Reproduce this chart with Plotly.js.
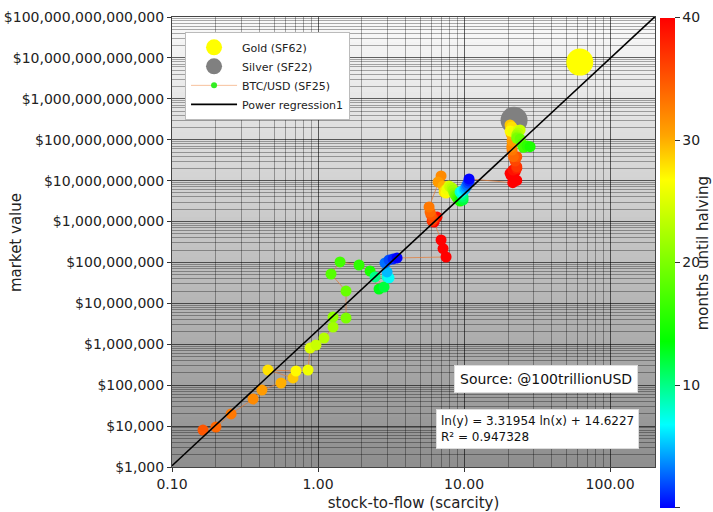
<!DOCTYPE html>
<html>
<head>
<meta charset="utf-8">
<script src="https://cdn.plot.ly/plotly-3.0.1.min.js"></script>
<style>html,body{margin:0;padding:0;background:#fff;}#chart{width:713px;height:512px;}</style>
</head>
<body>
<div id="chart"></div>
<script>
// ---- Data ----
// BTC monthly points, chronological (stock-to-flow, market value USD, months until halving)
const btcSF = [
  0.163, 0.200, 0.254, 0.359, 0.413, 0.558, 0.674, 0.454, 0.707, 0.854, 0.882, 0.969, 1.099, 1.267, 1.267, 1.555,
  1.555, 1.227, 1.415, 1.909, 2.271, 2.617, 2.833, 2.457, 2.969, 3.064, 2.969, 2.876, 3.064, 3.264, 3.476,
  7.53, 7.18, 6.96, 6.23, 6.53, 6.23, 6.04, 6.13, 5.94, 5.85, 5.76, 6.96, 6.64, 7.18, 7.41, 7.30, 7.53, 7.65,
  7.89, 8.02, 8.28, 8.41, 8.54, 8.68, 8.82, 8.96, 9.10, 9.24, 9.39, 9.54, 9.69, 9.84, 9.84, 9.69, 9.54, 9.39,
  9.69, 10.0, 10.16, 10.32, 10.48, 10.65, 10.82, 10.82,
  21.56, 22.96, 22.0, 21.0, 20.66, 22.36, 21.66, 22.96, 22.96, 22.36, 22.96, 21.76, 21.32, 21.22, 21.32, 21.0,
  20.66, 21.22, 20.66, 21.66, 23.44, 24.19, 23.46, 22.96, 23.07, 22.96, 24.19, 24.84, 25.48, 27.0, 28.33
];
const btcValue = [
  8.0e3, 9.5e3, 1.98e4, 4.6e4, 7.6e4, 1.13e5, 1.5e5, 2.35e5, 2.22e5, 2.35e5, 8.1e5, 9.6e5, 1.42e6, 2.64e6, 4.64e6, 4.39e6,
  2.0e7, 5.22e7, 1.03e8, 8.67e7, 6.18e7, 2.24e7, 2.51e7, 4.42e7, 4.42e7, 4.2e7, 5.85e7, 9.7e7, 1.15e8, 1.22e8, 1.29e8,
  1.36e8, 2.19e8, 3.54e8, 9.75e8, 1.29e9, 1.15e9, 1.03e9, 1.15e9, 1.45e9, 1.71e9, 2.27e9, 1.30e10, 9.27e9, 7.4e9, 5.9e9, 5.27e9, 4.99e9, 6.25e9,
  7.4e9, 7.0e9, 6.61e9, 5.9e9, 4.99e9, 4.46e9, 4.22e9, 3.77e9, 3.56e9, 3.37e9, 3.18e9, 3.37e9, 3.56e9, 3.37e9, 3.98e9, 4.46e9, 4.99e9, 5.27e9,
  5.58e9, 5.9e9, 6.25e9, 7.0e9, 7.82e9, 8.75e9, 9.8e9, 1.10e10,
  8.91e9, 1.01e10, 1.16e10, 1.34e10, 1.51e10, 1.65e10, 1.82e10, 2.0e10, 2.19e10, 3.02e10, 3.85e10, 3.85e10, 5.61e10, 6.76e10, 9.31e10, 1.38e11,
  2.29e11, 2.05e11, 1.63e11, 1.55e11, 1.68e11, 1.73e11, 1.46e11, 1.31e11, 1.17e11, 1.08e11, 1.04e11, 7.87e10, 6.53e10, 7.03e10, 6.76e10
];
const btcMonths = [
  35, 34, 33, 32, 31, 30, 29, 28, 27, 26, 25, 24, 23, 22, 21, 20,
  19, 18, 17, 16, 15, 13, 12, 10, 8, 7, 5, 3, 2, 1, 0,
  43, 42, 41, 40, 39, 38, 37, 36, 35, 34, 33, 32, 31, 30, 29, 28, 27, 26,
  25, 24, 23, 22, 21, 20, 19, 18, 17, 16, 15, 14, 13, 12, 11, 10, 9, 8,
  7, 6, 5, 4, 3, 2, 1, 0,
  45, 44, 43, 42, 41, 40, 39, 38, 37, 36, 35, 34, 33, 32, 31, 30,
  29, 28, 27, 26, 25, 24, 23, 22, 21, 20, 19, 18, 17, 16, 15
];
const goldSF = [62];
const goldValue = [7.9e12];
const silverSF = [22];
const silverValue = [3.0e11];
// regression ln(y) = a ln(x) + b
const regA = 3.31954;
const regB = 14.6227;
const regR2 = 0.947328;
const regX = [0.1, 210];
const regY = regX.map(x => Math.exp(regB + regA * Math.log(x)));

const FONT = 'DejaVu Sans, Verdana, sans-serif';

// background gradient bands (white top -> gray bottom)
const shapes = [];
const N = 90;
for (let i = 0; i < N; i++) {
  const t = (i + 0.5) / N; // 0 bottom, 1 top
  const c = Math.round(142 + (250 - 142) * t);
  shapes.push({type: 'rect', xref: 'paper', yref: 'paper', layer: 'below',
    x0: 0, x1: 1, y0: i / N, y1: (i + 1) / N + 0.002,
    fillcolor: `rgb(${c},${c},${c})`, line: {width: 0}});
}

const cscale = [[0, '#0000ff'], [0.17, '#00ffff'], [0.34, '#00ff00'], [0.67, '#ffff00'], [0.76, '#ffa500'], [1, '#ff0000']];

const traces = [
  {x: silverSF, y: silverValue, type: 'scatter', mode: 'markers', name: 'Silver (SF22)', legendrank: 2,
   marker: {size: 27, color: '#808080'}},
  {x: goldSF, y: goldValue, type: 'scatter', mode: 'markers', name: 'Gold (SF62)', legendrank: 1,
   marker: {size: 27, color: '#ffff00'}},
  {x: btcSF, y: btcValue, type: 'scatter', mode: 'lines', showlegend: false,
   line: {color: 'rgba(225,125,60,0.75)', width: 1}},
  {x: btcSF, y: btcValue, type: 'scatter', mode: 'markers', showlegend: false,
   marker: {size: 11, color: btcMonths, colorscale: cscale, cmin: 0, cmax: 40, showscale: true,
     colorbar: {thickness: 15, thicknessmode: 'pixels', len: 490, lenmode: 'pixels',
       x: 1.0104, xanchor: 'left', xpad: 0, y: 0.4544, yanchor: 'middle', ypad: 0,
       outlinewidth: 0, ticks: 'outside', ticklen: 5, tickcolor: '#333',
       tickvals: [0, 10, 20, 30, 40], tickfont: {size: 14, color: '#222', family: FONT}}}},
  {x: [null], y: [null], type: 'scatter', mode: 'lines+markers', name: 'BTC/USD (SF25)', legendrank: 3,
   line: {color: 'rgba(240,150,90,0.6)', width: 1}, marker: {size: 6, color: '#33ee22'}},
  {x: regX, y: regY, type: 'scatter', mode: 'lines', name: 'Power regression1', legendrank: 4,
   line: {color: '#000', width: 1.6}}
];

const layout = {
  width: 713, height: 512,
  margin: {l: 172, r: 58, t: 17, b: 45, autoexpand: false},
  paper_bgcolor: '#ffffff',
  plot_bgcolor: 'rgba(0,0,0,0)',
  font: {family: FONT, size: 14, color: '#222'},
  showlegend: true,
  legend: {x: 0.027, y: 0.967, xanchor: 'left', yanchor: 'top', bgcolor: '#ffffff',
    bordercolor: '#bbbbbb', borderwidth: 1, font: {size: 11, family: FONT, color: '#222'},
    itemwidth: 46, tracegroupgap: 0},
  xaxis: {type: 'log', range: [-1, Math.log10(203)], dtick: 1, tickformat: '.2f',
    ticks: 'outside', ticklen: 4, tickcolor: '#333',
    showgrid: true, gridcolor: 'rgba(0,0,0,0.6)', gridwidth: 1,
    minor: {dtick: 'D1', showgrid: true, gridcolor: 'rgba(0,0,0,0.32)', gridwidth: 1},
    showline: true, linecolor: '#444', linewidth: 1, mirror: true, zeroline: false,
    tickfont: {size: 14, family: FONT, color: '#222'},
    title: {text: 'stock-to-flow (scarcity)', font: {size: 15, family: FONT, color: '#222'}, standoff: 9}},
  yaxis: {type: 'log', range: [3, 14], dtick: 1, tickformat: '$,.0f',
    ticks: 'outside', ticklen: 4, tickcolor: '#333',
    showgrid: true, gridcolor: 'rgba(0,0,0,0.6)', gridwidth: 1,
    minor: {dtick: 'D1', showgrid: true, gridcolor: 'rgba(0,0,0,0.32)', gridwidth: 1},
    showline: true, linecolor: '#444', linewidth: 1, mirror: true, zeroline: false,
    tickfont: {size: 14, family: FONT, color: '#222'}},
  shapes: shapes,
  annotations: [
    {text: 'market value', xref: 'paper', yref: 'paper', x: -0.323, y: 0.5, textangle: -90,
     xanchor: 'center', yanchor: 'middle',
     showarrow: false, font: {size: 15, family: FONT, color: '#222'}},
    {text: 'months until halving', xref: 'paper', yref: 'paper', x: 1.0994, y: 0.475, textangle: -90,
     xanchor: 'center', yanchor: 'middle', borderpad: 0,
     showarrow: false, font: {size: 15, family: FONT, color: '#222'}},
    {text: 'Source: @100trillionUSD', xref: 'paper', yref: 'paper', x: 0.7733, y: 0.1956,
     xanchor: 'center', yanchor: 'middle', showarrow: false, bgcolor: '#ffffff',
     bordercolor: '#dddddd', borderwidth: 1, borderpad: 5, font: {size: 14, family: FONT, color: '#111'}},
    {text: 'ln(y) = ' + regA + ' ln(x) + ' + regB + '<br>R² = ' + regR2, xref: 'paper', yref: 'paper',
     x: 0.7557, y: 0.0844, xanchor: 'center', yanchor: 'middle', align: 'left', showarrow: false,
     bgcolor: '#ffffff', bordercolor: '#dddddd', borderwidth: 1, borderpad: 4,
     font: {size: 12, family: FONT, color: '#111'}}
  ]
};

Plotly.newPlot('chart', traces, layout, {displayModeBar: false, staticPlot: true});
</script>
</body>
</html>
